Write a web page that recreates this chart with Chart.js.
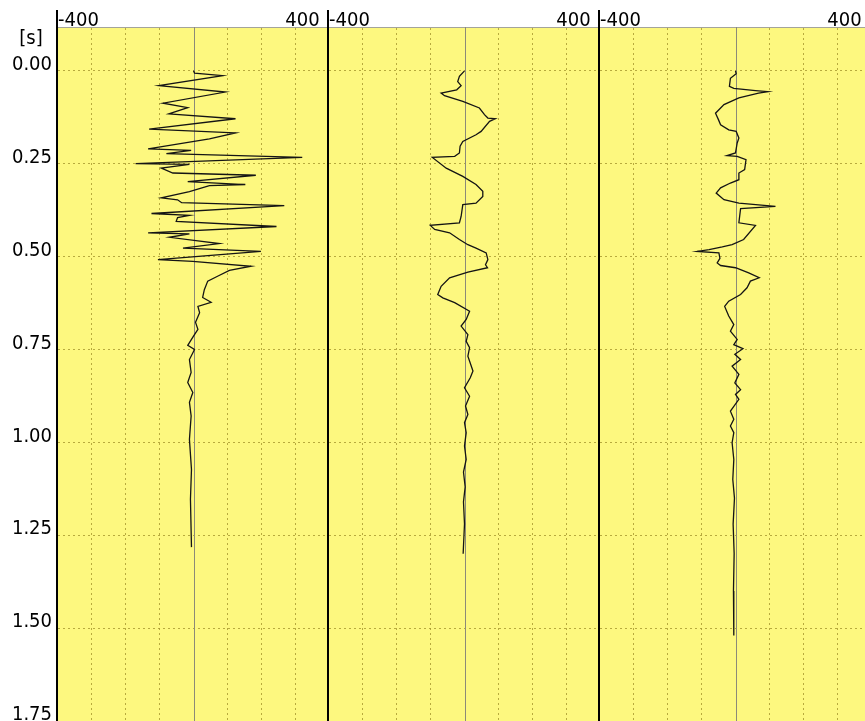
<!DOCTYPE html>
<html lang="en">
<head>
  <meta charset="UTF-8">
  <title>Seismic traces</title>
  <script src="https://cdn.jsdelivr.net/npm/chart.js"></script>
  <style>
    body { margin: 0; background: #fff; overflow: hidden; }
    #wrap { position: relative; width: 865px; height: 721px; overflow: hidden; }
    canvas { position: absolute; top: 0; }
  </style>
</head>
<body>
  <div id="wrap">
    <canvas id="p1" width="329" height="721" style="left:0px"></canvas>
    <canvas id="p2" width="274" height="721" style="left:326px"></canvas>
    <canvas id="p3" width="274" height="721" style="left:597px"></canvas>
  </div>

  <script>
    // axis ranges and tick labels
    const tMin = -0.118, tMax = 1.75;
    const ampMin = -400, ampMax = 400;
    const ampTicks = [-400, -300, -200, -100, 0, 100, 200, 300, 400];
    const ampLabels = ['-400', '400 \u2009'];
    const timeTicks = [0, 0.25, 0.5, 0.75, 1.0, 1.25, 1.5, 1.75];
    const timeUnit = '[s] \u2009';
    const unitTick = -0.07;

    // trace 1
    const t1 = [0, 0.006, 0.013, 0.040, 0.057, 0.087, 0.099, 0.116, 0.129, 0.157, 0.167, 0.183, 0.210, 0.214, 0.223, 0.233,
      0.250, 0.252, 0.262, 0.275, 0.281, 0.298, 0.306, 0.309, 0.325, 0.342, 0.347, 0.355, 0.363, 0.384, 0.389, 0.395,
      0.405, 0.419, 0.436, 0.439, 0.448, 0.465, 0.477, 0.486, 0.508, 0.513, 0.526, 0.537, 0.553, 0.566, 0.589, 0.610,
      0.623, 0.634, 0.651, 0.677, 0.696, 0.714, 0.739, 0.750, 0.777, 0.812, 0.839, 0.866, 0.892, 0.929, 0.992, 1.073,
      1.153, 1.282];
    const a1 = [0, 3, 86, -102, 94, -90, -17, -73, 124, -131, 124, 47, -134, -7, -80, 321,
      -171, -12, -95, -61, 184, -17, 153, 47, -12, -95, -47, -35, 268, -124, -12, -47,
      -51, 245, -134, -12, -71, 76, -31, 199, -105, -2, 170, 106, 71, 42, 32, 27,
      52, 13, 18, 6, 13, 0, -17, 3, -12, -7, -17, -2, -12, -7, -12, -6,
      -9, -6];

    // trace 2
    const t2 = [0, 0.015, 0.029, 0.040, 0.051, 0.060, 0.067, 0.082, 0.100, 0.118, 0.127, 0.129, 0.136, 0.163, 0.172, 0.190,
      0.203, 0.221, 0.230, 0.233, 0.262, 0.284, 0.306, 0.324, 0.338, 0.356, 0.360, 0.392, 0.409, 0.416, 0.427, 0.436,
      0.454, 0.468, 0.477, 0.490, 0.508, 0.522, 0.530, 0.542, 0.557, 0.580, 0.602, 0.611, 0.624, 0.647, 0.669, 0.687,
      0.710, 0.728, 0.745, 0.768, 0.808, 0.826, 0.853, 0.876, 0.902, 0.925, 0.947, 0.974, 1.010, 1.046, 1.080, 1.120,
      1.160, 1.220, 1.300];
    const a2 = [0, -15, -20, -10, -23, -69, -59, -5, 44, 59, 69, 91, 74, 49, 34, -5,
      -13, -15, -29, -95, -54, -5, 34, 54, 54, 34, -5, -10, -15, -101, -88, -44,
      -15, 10, 34, 64, 69, 62, 68, 10, -44, -69, -79, -64, -29, 15, 5, -10,
      10, 5, 15, 10, 25, 17, 0, 15, 3, 10, 0, 5, 0, 5, -3, 2,
      -3, 0, -4];

    // trace 3
    const t3 = [0, 0.008, 0.020, 0.042, 0.047, 0.053, 0.056, 0.060, 0.073, 0.091, 0.114, 0.130, 0.145, 0.159, 0.163, 0.181,
      0.194, 0.221, 0.228, 0.230, 0.239, 0.266, 0.275, 0.293, 0.302, 0.315, 0.329, 0.347, 0.356, 0.365, 0.371, 0.409,
      0.416, 0.454, 0.468, 0.474, 0.481, 0.486, 0.490, 0.505, 0.517, 0.524, 0.530, 0.544, 0.557, 0.566, 0.584, 0.602,
      0.620, 0.634, 0.660, 0.683, 0.701, 0.723, 0.737, 0.748, 0.763, 0.777, 0.795, 0.817, 0.840, 0.858, 0.871, 0.884,
      0.916, 0.938, 0.956, 0.974, 1.001, 1.046, 1.100, 1.150, 1.220, 1.300, 1.400, 1.520];
    const a3 = [0, 2, -15, -18, -5, 59, 96, 68, 10, -34, -59, -51, -44, -20, 2, 10,
      5, 0, -25, 5, 31, 27, 10, 10, -15, -44, -57, -34, 10, 118, 15, 10,
      59, 24, -10, -39, -78, -113, -49, -46, -54, -44, 0, 39, 70, 44, 34, 15,
      -20, -32, -20, -5, -15, 5, -5, 22, -2, 15, -10, 10, -2, 15, 0, 10,
      -15, -5, -15, -5, -10, -5, -8, -3, -7, -4, -6, -5];

    const FONT = { family: '"DejaVu Sans Condensed", "Liberation Sans", sans-serif', size: 20 };
    const GRID = 'rgba(165,150,45,0.8)';
    const CLEAR = 'rgba(0,0,0,0)';

    // yellow plot area, solid zero line, black panel separator
    const panelDecor = {
      id: 'panelDecor',
      beforeDraw(chart) {
        const { ctx, chartArea: a } = chart;
        ctx.save();
        ctx.fillStyle = '#fdf87f';
        ctx.fillRect(a.left, a.top, a.right - a.left, a.bottom - a.top);
        ctx.restore();
      },
      beforeDatasetsDraw(chart) {
        const { ctx, chartArea: a, scales: { x } } = chart;
        const x0 = Math.round(x.getPixelForValue(0)) + 0.5;
        ctx.save();
        ctx.strokeStyle = '#8c8a78';
        ctx.lineWidth = 1;
        ctx.beginPath();
        ctx.moveTo(x0, a.top);
        ctx.lineTo(x0, a.bottom);
        ctx.stroke();
        ctx.restore();
      },
      afterDraw(chart) {
        const { ctx, chartArea: a } = chart;
        ctx.save();
        ctx.strokeStyle = '#000';
        ctx.lineWidth = 2;
        ctx.beginPath();
        ctx.moveTo(a.left - 1, a.top - 17);
        ctx.lineTo(a.left - 1, a.bottom);
        ctx.stroke();
        ctx.restore();
      }
    };

    function makePanel(id, times, amps, showTime) {
      const points = times.map((t, i) => ({ x: amps[i], y: t }));
      return new Chart(document.getElementById(id), {
        type: 'scatter',
        data: {
          datasets: [{
            data: points, showLine: true, borderColor: '#141414', borderWidth: 1.3,
            pointRadius: 0, tension: 0
          }]
        },
        options: {
          responsive: false,
          animation: false,
          layout: { padding: 0 },
          plugins: { legend: { display: false }, tooltip: { enabled: false } },
          scales: {
            x: {
              type: 'linear', position: 'top', min: ampMin, max: ampMax,
              afterBuildTicks: s => { s.ticks = ampTicks.map(v => ({ value: v })); },
              afterFit: s => { s.height = 27; s.paddingLeft = 0; s.paddingRight = 0; },
              ticks: {
                align: 'inner', autoSkip: false, maxRotation: 0, padding: -6, font: FONT, color: '#000',
                callback: v => v === ampMin ? ampLabels[0] : v === ampMax ? ampLabels[1] : ''
              },
              grid: {
                drawTicks: false,
                color: c => (c.tick && (c.tick.value === ampMin || c.tick.value === ampMax || c.tick.value === 0)) ? CLEAR : GRID
              },
              border: { display: true, color: '#a4a49a', width: 1, dash: [2, 3] }
            },
            y: {
              type: 'linear', reverse: true, min: tMin, max: tMax,
              afterBuildTicks: s => {
                s.ticks = (showTime ? [unitTick, ...timeTicks] : timeTicks).map(v => ({ value: v }));
              },
              afterFit: s => { s.width = showTime ? 58 : 3; s.paddingTop = 0; s.paddingBottom = 0; },
              ticks: {
                display: showTime, autoSkip: false, padding: 6, labelOffset: -6, font: FONT, color: '#000',
                callback: v => v === unitTick ? timeUnit : v.toFixed(2)
              },
              grid: {
                drawTicks: false,
                color: c => (c.tick && (c.tick.value === unitTick || c.tick.value === tMax)) ? CLEAR : GRID
              },
              border: { display: false, dash: [2, 3] }
            }
          }
        },
        plugins: [panelDecor]
      });
    }

    makePanel('p1', t1, a1, true);
    makePanel('p2', t2, a2, false);
    makePanel('p3', t3, a3, false);
  </script>
</body>
</html>
